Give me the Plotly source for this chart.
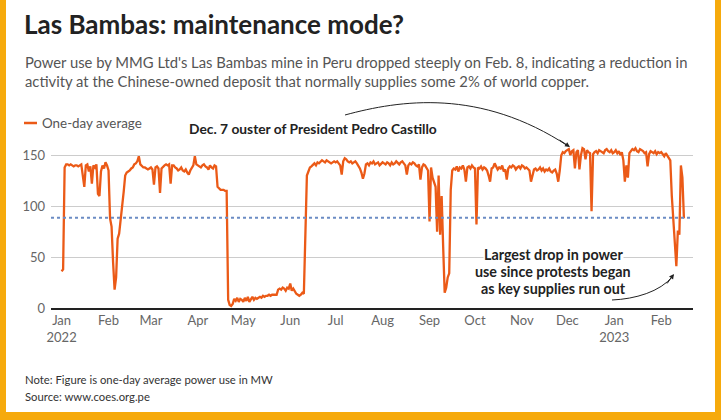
import pandas as pd
import plotly.graph_objects as go

# one-day average power use (MW)
jan_2022 = [36, 38, 138, 141, 141, 140, 141, 140, 139, 140, 140, 139, 140, 141, 130, 119,
            140, 141, 134, 139, 122, 140, 138, 141, 112, 110, 134, 140, 137, 143, 140]
feb_2022 = [135, 88, 80, 45, 18, 30, 68, 73, 85, 100, 114, 130, 133, 134, 135, 137, 138,
            141, 142, 144, 149, 141, 139, 138, 138, 137, 136, 137]
mar_2022 = [138, 136, 121, 138, 139, 137, 113, 137, 139, 140, 141, 140, 141, 122, 140, 140,
            138, 137, 135, 136, 138, 135, 134, 136, 133, 131, 135, 138, 140, 149, 141]
apr_2022 = [140, 139, 138, 140, 141, 139, 138, 136, 140, 138, 137, 140, 139, 119, 117, 116,
            116, 116, 115, 115, 8, 3, 2, 4, 9, 7, 10, 6, 9, 8]
may_2022 = [6, 10, 7, 11, 6, 9, 11, 8, 10, 9, 10, 11, 10, 12, 11, 12, 12, 13, 12, 13, 13,
            13, 13, 18, 19, 18, 20, 19, 17, 20, 19]
jun_2022 = [24, 17, 19, 16, 14, 13, 12, 13, 15, 14, 70, 130, 134, 138, 139, 141, 142, 140,
            143, 142, 144, 145, 144, 143, 145, 144, 143, 142, 143, 144]
jul_2022 = [143, 144, 142, 140, 131, 144, 147, 146, 144, 143, 144, 142, 143, 144, 142, 140,
            137, 133, 127, 132, 141, 142, 140, 143, 142, 144, 141, 142, 143, 140, 142]
aug_2022 = [143, 142, 141, 143, 142, 140, 143, 141, 142, 144, 142, 141, 143, 144, 142, 140,
            131, 140, 142, 141, 143, 142, 140, 139, 141, 126, 138, 141, 140, 138, 135]
sep_2022 = [85, 138, 128, 124, 119, 75, 130, 72, 110, 60, 15, 20, 30, 34, 116, 135, 137,
            136, 139, 134, 138, 137, 140, 136, 124, 138, 139, 137, 140, 138]
oct_2022 = [137, 82, 138, 137, 139, 136, 138, 137, 135, 130, 124, 137, 138, 142, 139, 136,
            138, 137, 140, 134, 136, 126, 137, 139, 138, 140, 139, 136, 138, 139, 137]
nov_2022 = [140, 139, 137, 138, 136, 135, 124, 131, 136, 137, 135, 136, 138, 135, 137, 134,
            136, 135, 137, 134, 133, 135, 136, 132, 124, 135, 150, 153, 152, 154]
dec_2022 = [155, 156, 150, 154, 155, 137, 153, 155, 136, 150, 157, 156, 146, 155, 153, 152,
            95, 151, 153, 154, 152, 155, 154, 153, 152, 155, 156, 154, 153, 155, 152]
jan_2023 = [153, 155, 152, 154, 150, 153, 145, 124, 140, 128, 152, 154, 156, 155, 157, 154,
            153, 156, 155, 154, 152, 153, 139, 151, 154, 153, 152, 154, 151, 153, 152]
feb_2023 = [153, 151, 149, 152, 150, 148, 145, 110, 85, 70, 41, 76, 72, 140, 128, 88]

month_starts = ["2022-01-01", "2022-02-01", "2022-03-01", "2022-04-01", "2022-05-01",
                "2022-06-01", "2022-07-01", "2022-08-01", "2022-09-01", "2022-10-01",
                "2022-11-01", "2022-12-01", "2023-01-01", "2023-02-01"]
month_values = [jan_2022, feb_2022, mar_2022, apr_2022, may_2022, jun_2022, jul_2022,
                aug_2022, sep_2022, oct_2022, nov_2022, dec_2022, jan_2023, feb_2023]
tick_text = ["Jan<br>2022", "Feb", "Mar", "Apr", "May", "Jun", "Jul", "Aug", "Sep",
             "Oct", "Nov", "Dec", "Jan<br>2023", "Feb"]
y_ticks = [0, 50, 100, 150]
reference_level = 88.5

dates = []
values = []
for start, vals in zip(month_starts, month_values):
    dates += list(pd.date_range(start, periods=len(vals), freq="D"))
    values += vals

ORANGE = "#EB5A17"
FRAME = "#F6AA0C"
FONT = "Lato"

# plot area in pixels: left 51, right 693, top 143, bottom 308
def fx(px):
    return (px - 51) / 642

def fy(py):
    return (308 - py) / 165

def path(points):
    (x0, y0), (x1, y1), (x2, y2), (x3, y3) = points
    return "M %f,%f C %f,%f %f,%f %f,%f" % (fx(x0), fy(y0), fx(x1), fy(y1),
                                           fx(x2), fy(y2), fx(x3), fy(y3))

def frame_bar(x0, y0, x1, y1):
    return dict(type="rect", xref="paper", yref="paper", x0=fx(x0), x1=fx(x1),
                y0=fy(y1), y1=fy(y0), fillcolor=FRAME, line=dict(width=0), layer="above")

fig = go.Figure()
fig.add_trace(go.Scatter(x=dates, y=values, mode="lines",
                         line=dict(color=ORANGE, width=2.3), name="One-day average",
                         showlegend=False, hoverinfo="skip"))
fig.add_hline(y=reference_level, line=dict(color="#6B8CC4", width=2, dash="dot"))

shapes = [
    # yellow frame
    frame_bar(0, 0, 721, 6),
    frame_bar(0, 412, 721, 425),
    frame_bar(0, 0, 6, 425),
    frame_bar(715, 0, 721, 425),
    # legend swatch
    dict(type="line", xref="paper", yref="paper", x0=fx(24), x1=fx(37), y0=fy(123), y1=fy(123),
         line=dict(color=ORANGE, width=2.5)),
    # curved arrows
    dict(type="path", xref="paper", yref="paper",
         path=path([(345, 115), (400, 100), (480, 88), (568, 146)]),
         line=dict(color="#222", width=1)),
    dict(type="path", xref="paper", yref="paper",
         path=path([(612, 300), (635, 299), (660, 292), (673, 276)]),
         line=dict(color="#222", width=1)),
]

def note(text, x, y, size, color, xanchor="left", bold=False, bg=None):
    return dict(text="<b>%s</b>" % text if bold else text, x=fx(x), y=fy(y),
                xref="paper", yref="paper", xanchor=xanchor, yanchor="middle",
                showarrow=False, font=dict(family=FONT, size=size, color=color),
                bgcolor=bg, borderpad=0)

annotations = [
    note("Las Bambas: maintenance mode?", 23, 24, 26, "#222", bold=True),
    note("Power use by MMG Ltd's Las Bambas mine in Peru dropped steeply on Feb. 8, "
         "indicating a reduction in", 24, 62, 14.8, "#555"),
    note("activity at the Chinese-owned deposit that normally supplies some 2% of world copper.",
         24, 81, 14.8, "#555"),
    note("One-day average", 41, 123, 13.4, "#555"),
    note("Dec. 7 ouster of President Pedro Castillo", 188, 129, 13.8, "#222", bold=True),
    note("Largest drop in power", 553, 254, 14.3, "#222", xanchor="center", bold=True, bg="white"),
    note("use since protests began", 553, 271, 14.3, "#222", xanchor="center", bold=True, bg="white"),
    note("as key supplies run out", 553, 288, 14.3, "#222", xanchor="center", bold=True, bg="white"),
    note("Note: Figure is one-day average power use in MW", 24, 379, 11.3, "#333"),
    note("Source: www.coes.org.pe", 24, 396, 11.3, "#333"),
    # arrow heads
    dict(x=fx(570), y=fy(147), xref="paper", yref="paper", text="", showarrow=True,
         ax=-12, ay=-8, arrowhead=2, arrowsize=1, arrowwidth=1, arrowcolor="#222"),
    dict(x=fx(674), y=fy(274), xref="paper", yref="paper", text="", showarrow=True,
         ax=-8, ay=11, arrowhead=2, arrowsize=1, arrowwidth=1, arrowcolor="#222"),
]

fig.update_layout(
    width=721, height=420,
    margin=dict(l=51, r=28, t=143, b=112, autoexpand=False),
    paper_bgcolor="white",
    plot_bgcolor="white",
    font=dict(family=FONT, size=13, color="#666"),
    shapes=shapes,
    annotations=annotations,
    showlegend=False,
    hovermode=False,
    xaxis=dict(type="date", range=["2021-12-25", "2023-02-22"],
               tickvals=month_starts, ticktext=tick_text, showgrid=False,
               showline=True, linecolor="#222", linewidth=1.5, ticks="",
               tickfont=dict(size=13, color="#666"), zeroline=False, automargin=False),
    yaxis=dict(range=[0, 162], tickvals=y_ticks, showgrid=True, gridcolor="#CCCCCC",
               gridwidth=1, zeroline=False, showline=False, ticks="", automargin=False,
               tickfont=dict(size=13, color="#666"), ticklabelstandoff=5),
)

# the page body has a default 8px margin; drop it so the figure fills the window
fig.write_html("out.html", config={"displayModeBar": False},
               post_script="document.body.style.margin = '0px'; "
                           "document.body.style.background = '%s';" % FRAME)
